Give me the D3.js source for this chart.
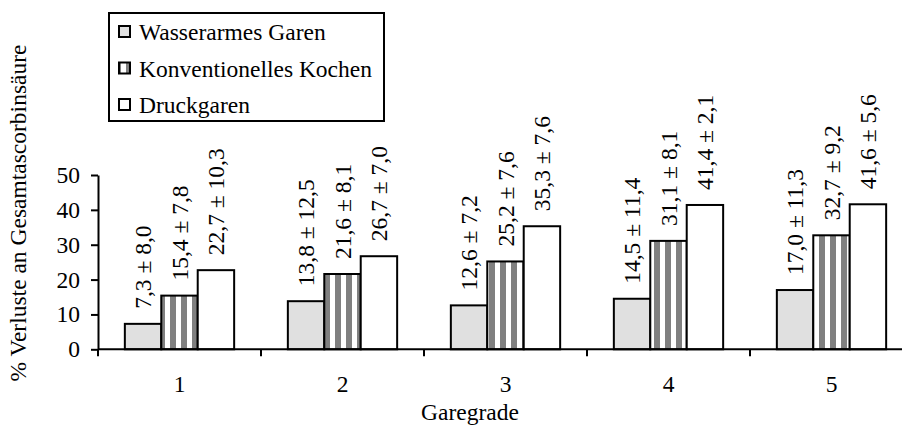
<!DOCTYPE html>
<html>
<head>
<meta charset="utf-8">
<script src="https://cdn.jsdelivr.net/npm/d3@7"></script>
<style>
  html, body { margin: 0; padding: 0; background: #fff; }
  svg text { font-family: "Liberation Serif", "Times New Roman", Times, "DejaVu Serif", serif !important; }
</style>
</head>
<body>
<svg id="chart" width="902" height="425"></svg>
<script>
// ---- data ----
const categories = ["1", "2", "3", "4", "5"];
const seriesNames = ["Wasserarmes Garen", "Konventionelles Kochen", "Druckgaren"];
const wasserarm = [7.3, 13.8, 12.6, 14.5, 17.0];
const wasserarmSD = [8.0, 12.5, 7.2, 11.4, 11.3];
const konventionell = [15.4, 21.6, 25.2, 31.1, 32.7];
const konventionellSD = [7.8, 8.1, 7.6, 8.1, 9.2];
const druck = [22.7, 26.7, 35.3, 41.4, 41.6];
const druckSD = [10.3, 7.0, 7.6, 2.1, 5.6];
const yTicks = [0, 10, 20, 30, 40, 50];
const xTitle = "Garegrade";
const yTitle = "% Verluste an Gesamtascorbinsäure";

const seriesValues = [wasserarm, konventionell, druck];
const seriesSD = [wasserarmSD, konventionellSD, druckSD];
const fills = ["#e0e0e0", "url(#stripes)", "#ffffff"];
const FONT = "Liberation Serif, Times New Roman, serif";

const svg = d3.select("#chart");
svg.append("rect").attr("width", 902).attr("height", 425).attr("fill", "#fff");

const defs = svg.append("defs");
const pat = defs.append("pattern")
  .attr("id", "stripes").attr("patternUnits", "userSpaceOnUse")
  .attr("width", 11).attr("height", 11);
pat.append("rect").attr("width", 11).attr("height", 11).attr("fill", "#fff");
pat.append("rect").attr("x", 5).attr("width", 6).attr("height", 11).attr("fill", "#808080");

const fontSize = 23.5;
const x = d3.scaleBand().domain(categories).range([98, 913]).paddingInner(0).paddingOuter(0);
const xs = d3.scaleBand().domain(d3.range(seriesNames.length)).range([0, x.bandwidth()]).paddingInner(0).paddingOuter(0.737);
const y = d3.scaleLinear().domain([0, 50]).range([349.3, 175]);

const fmt = v => d3.format(".1f")(v).replace(".", ",");

// bars
seriesNames.forEach((name, si) => {
  const g = svg.append("g");
  g.selectAll("rect").data(categories).join("rect")
    .attr("x", (c) => x(c) + xs(si))
    .attr("y", (c, i) => y(seriesValues[si][i]))
    .attr("width", xs.bandwidth())
    .attr("height", (c, i) => y(0) - y(seriesValues[si][i]))
    .attr("fill", fills[si])
    .attr("stroke", "#000").attr("stroke-width", 2);
  g.selectAll("text").data(categories).join("text")
    .attr("transform", (c, i) => {
      const cx = x(c) + xs(si) + xs.bandwidth() / 2;
      const ty = y(seriesValues[si][i]) - 15;
      return `translate(${cx},${ty}) rotate(-90)`;
    })
    .attr("dy", "0.34em")
    .attr("font-family", FONT)
    .attr("font-size", fontSize)
    .attr("text-anchor", "start")
    .text((c, i) => `${fmt(seriesValues[si][i])} ± ${fmt(seriesSD[si][i])}`);
});

// y axis
const yAxis = d3.axisLeft(y).tickValues(yTicks).tickSize(7).tickPadding(11).tickSizeOuter(0);
const yg = svg.append("g").attr("transform", "translate(98,0)").call(yAxis)
  .attr("font-family", FONT);
yg.select(".domain").attr("stroke-width", 2);
yg.selectAll(".tick line").attr("stroke-width", 2);
yg.selectAll(".tick text").attr("font-size", fontSize).attr("font-family", FONT).attr("fill", "#000");

// x axis line and boundary ticks
svg.append("line").attr("x1", 98).attr("x2", 913).attr("y1", y(0)).attr("y2", y(0))
  .attr("stroke", "#000").attr("stroke-width", 2);
const bounds = categories.map(c => x(c)).concat([x(categories[categories.length - 1]) + x.bandwidth()]);
svg.selectAll(".xtick").data(bounds).join("line")
  .attr("x1", d => d).attr("x2", d => d).attr("y1", y(0)).attr("y2", y(0) + 7)
  .attr("stroke", "#000").attr("stroke-width", 2);
svg.selectAll(".xlab").data(categories).join("text")
  .attr("x", c => x(c) + x.bandwidth() / 2).attr("y", 392)
  .attr("font-family", FONT)
  .attr("text-anchor", "middle").attr("font-size", fontSize).text(c => c);

// titles
svg.append("text").attr("x", 470).attr("y", 420).attr("text-anchor", "middle")
  .attr("font-family", FONT).attr("font-size", fontSize).text(xTitle);
svg.append("text").attr("transform", "translate(26,213) rotate(-90)")
  .attr("font-family", FONT)
  .attr("text-anchor", "middle").attr("font-size", fontSize).text(yTitle);

// legend
const lg = svg.append("g");
lg.append("rect").attr("x", 109).attr("y", 13).attr("width", 275).attr("height", 108)
  .attr("fill", "#fff").attr("stroke", "#000").attr("stroke-width", 2);
const legendBaselines = [40, 76.5, 113];
seriesNames.forEach((name, si) => {
  lg.append("rect").attr("x", 119).attr("y", legendBaselines[si] - 14).attr("width", 11).attr("height", 11)
    .attr("fill", fills[si]).attr("stroke", "#000").attr("stroke-width", 2);
  lg.append("text").attr("x", 139).attr("y", legendBaselines[si])
    .attr("font-family", FONT).attr("font-size", fontSize).text(name);
});
</script>
</body>
</html>
